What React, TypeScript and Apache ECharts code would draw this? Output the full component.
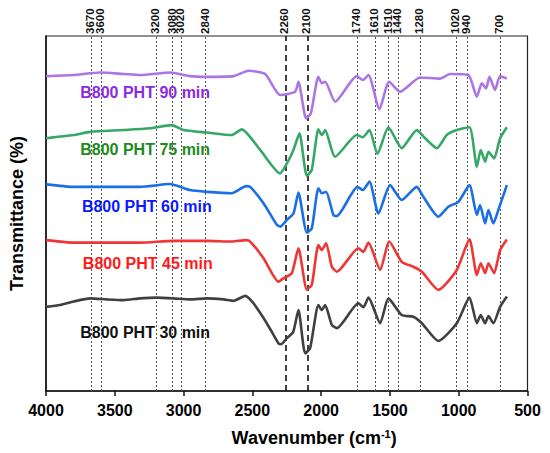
import React, { useEffect, useRef } from "react";
import * as echarts from "echarts";

// Reference wavenumbers (top labels)
const refDotted = [3670, 3600, 3200, 3080, 3020, 2840, 1740, 1610, 1510, 1440, 1280, 1020, 940, 700];
const refDashed = [2260, 2100];

// Spectra: [wavenumber, transmittance (a.u., offset)]
const pht30: [number, number][] = [
  [4000, 23.7], [3897, 24.2], [3800, 25.2], [3679, 26.1], [3557, 25.8], [3437, 25.6], [3315, 26.1],
  [3194, 26.3], [3073, 26.1], [2952, 25.8], [2831, 26.1], [2710, 25.8], [2637, 25.4], [2552, 26.8],
  [2492, 24.7], [2395, 19.1], [2310, 13.4], [2290, 13.2], [2249, 14.9], [2203, 16.6], [2165, 22.8],
  [2116, 10.6], [2080, 12.1], [2020, 24.2], [1995, 22.8], [1971, 24.2], [1922, 18.6], [1886, 17.7],
  [1729, 24.7], [1693, 23.6], [1656, 26.3], [1571, 19.1], [1511, 26.1], [1414, 21.4], [1330, 20.9],
  [1268, 19.1], [1148, 14.1], [1014, 19.1], [922, 26.3], [868, 19.1], [840, 21.4], [808, 19.1],
  [784, 21.1], [748, 19.1], [699, 23.7], [650, 26.6],
];
const pht45: [number, number][] = [
  [4000, 42.5], [3800, 41.8], [3557, 41.8], [3315, 41.8], [3073, 42.3], [2831, 42.3], [2650, 42.1],
  [2545, 42.5], [2516, 42.1], [2419, 37.4], [2310, 30.8], [2274, 31.7], [2213, 33.2], [2165, 40.2],
  [2104, 28.6], [2068, 29.9], [2020, 41.1], [1995, 39.7], [1964, 41.6], [1922, 35.0], [1886, 33.6],
  [1729, 40.2], [1693, 39.2], [1656, 41.8], [1571, 34.1], [1505, 42.1], [1414, 36.4], [1330, 35.0],
  [1268, 33.6], [1148, 28.5], [1014, 34.1], [922, 42.7], [868, 32.7], [840, 36.0], [808, 33.2],
  [784, 36.0], [743, 33.2], [699, 39.7], [650, 42.7],
];
const pht60: [number, number][] = [
  [4000, 58.2], [3800, 57.5], [3557, 57.5], [3315, 57.5], [3100, 58.3], [2952, 56.6], [2831, 56.1],
  [2650, 55.7], [2545, 57.7], [2516, 57.5], [2419, 52.9], [2322, 46.8], [2298, 46.3], [2249, 48.2],
  [2201, 50.0], [2165, 55.9], [2104, 44.6], [2068, 45.8], [2020, 57.1], [1995, 55.7], [1964, 56.1],
  [1911, 49.6], [1886, 49.3], [1736, 57.5], [1697, 56.6], [1649, 59.0], [1584, 50.0], [1499, 58.0],
  [1414, 53.8], [1305, 57.5], [1257, 54.7], [1148, 49.1], [1075, 51.9], [1002, 53.3], [922, 58.0],
  [868, 49.6], [845, 52.4], [808, 47.2], [784, 51.0], [748, 47.2], [712, 51.0], [650, 58.0],
];
const pht75: [number, number][] = [
  [4000, 71.2], [3800, 72.1], [3679, 73.0], [3437, 73.5], [3243, 74.0], [3085, 74.9], [3000, 73.5],
  [2831, 72.8], [2650, 72.1], [2577, 73.7], [2443, 67.9], [2298, 61.3], [2249, 64.1], [2201, 67.9],
  [2158, 72.6], [2104, 60.6], [2068, 62.3], [2020, 73.7], [1995, 72.1], [1971, 73.5], [1898, 66.0],
  [1741, 72.1], [1697, 71.5], [1649, 73.5], [1591, 66.8], [1511, 74.3], [1414, 68.4], [1305, 73.5],
  [1244, 71.2], [1159, 68.4], [1087, 72.1], [1014, 73.5], [922, 74.3], [868, 63.2], [840, 67.9],
  [808, 64.6], [784, 67.4], [743, 65.5], [699, 71.2], [650, 74.3],
];
const pht90: [number, number][] = [
  [4000, 88.7], [3800, 89.0], [3606, 89.7], [3437, 89.3], [3315, 89.0], [3097, 89.7], [2952, 88.7],
  [2831, 88.5], [2637, 88.7], [2528, 90.2], [2407, 89.3], [2298, 83.4], [2189, 84.3], [2165, 87.1],
  [2109, 76.8], [2075, 78.2], [2020, 88.5], [1995, 86.7], [1971, 87.1], [1898, 81.5], [1741, 88.7],
  [1697, 87.6], [1656, 89.0], [1576, 79.4], [1506, 87.1], [1426, 84.3], [1281, 88.3], [1136, 88.0],
  [1063, 89.3], [930, 89.0], [868, 82.9], [832, 86.7], [801, 85.2], [777, 88.5], [736, 84.8],
  [699, 88.7], [650, 88.0],
];

const seriesNames = ["B800 PHT 30 min", "B800 PHT 45 min", "B800 PHT 60 min", "B800 PHT 75 min", "B800 PHT 90 min"];
const seriesData = [pht30, pht45, pht60, pht75, pht90];
const lineColors = ["#404040", "#f03535", "#1a6fe6", "#35a866", "#ad74e6"];
const labelColors = ["#111111", "#ff1a1a", "#0a1aff", "#1e8a1e", "#8a2be2"];
// label anchors (left edge, vertical centre) in data coordinates
const labelAnchors: [number, number][] = [
  [3751, 16.4], [3732, 36.0], [3739, 52.1], [3751, 67.9], [3751, 84.0],
];

const FONT = "Liberation Sans, Arial, sans-serif";

export default function App() {
  const ref = useRef<HTMLDivElement>(null);
  useEffect(() => {
    if (!ref.current) return;
    const chart = echarts.init(ref.current, null, { renderer: "svg" });
    const markData: any[] = [
      ...refDotted.map((w) => ({
        xAxis: w,
        lineStyle: { type: [2, 2], color: "#555", width: 1 },
      })),
      ...refDashed.map((w) => ({
        xAxis: w,
        lineStyle: { type: [6, 4], color: "#111", width: 1.6 },
      })),
    ];
    chart.setOption({
      animation: false,
      grid: {
        left: 46,
        right: 22.5,
        top: 36,
        bottom: 62,
        show: true,
        borderColor: "#222",
        borderWidth: 1.2,
      },
      xAxis: {
        type: "value",
        min: 500,
        max: 4000,
        interval: 500,
        inverse: true,
        axisLine: { lineStyle: { color: "#111", width: 1.5 } },
        axisTick: { show: true, length: 5, lineStyle: { color: "#111", width: 1.5 } },
        axisLabel: {
          color: "#000",
          fontWeight: "bold",
          fontSize: 16,
          fontFamily: FONT,
          margin: 11,
          formatter: (v: number) => String(v),
        },
        splitLine: { show: false },
      },
      yAxis: {
        type: "value",
        min: 0,
        max: 100,
        axisLine: { show: true, lineStyle: { color: "#111", width: 1.5 } },
        axisTick: { show: false },
        axisLabel: { show: false },
        splitLine: { show: false },
      },
      series: seriesData.map((d, i) => ({
        name: seriesNames[i],
        type: "line",
        data: d,
        showSymbol: false,
        smooth: 0.2,
        lineStyle: { color: lineColors[i], width: 2.6 },
        itemStyle: { color: lineColors[i] },
        z: 3,
        ...(i === 0
          ? {
              markLine: {
                silent: true,
                symbol: ["none", "none"],
                label: { show: false },
                data: markData,
                z: 2,
              },
            }
          : {}),
      })),
    });

    const toPx = (w: number, v: number) =>
      chart.convertToPixel({ xAxisIndex: 0, yAxisIndex: 0 }, [w, v]) as number[];
    const topY = toPx(4000, 100)[1];
    const graphics: any[] = [];
    [...refDotted, ...refDashed].forEach((w) => {
      const p = toPx(w, 100);
      graphics.push({
        type: "text",
        x: p[0] - 1,
        y: topY - 2,
        rotation: Math.PI / 2,
        style: {
          text: String(w),
          fill: "#111",
          fontSize: 11.5,
          fontWeight: "bold",
          fontFamily: FONT,
          textAlign: "left",
          textVerticalAlign: "middle",
        },
      });
    });
    seriesNames.forEach((n, i) => {
      const p = toPx(labelAnchors[i][0], labelAnchors[i][1]);
      graphics.push({
        type: "text",
        x: p[0],
        y: p[1],
        style: {
          text: n,
          fill: labelColors[i],
          fontSize: 16,
          fontWeight: "bold",
          fontFamily: FONT,
          textAlign: "left",
          textVerticalAlign: "middle",
        },
        z: 10,
      });
    });
    const bottomY = toPx(4000, 0)[1];
    const midX = toPx(2260 - 180, 0)[0];
    graphics.push({
      type: "text",
      x: midX + 4,
      y: bottomY + 47,
      style: {
        text: "{a|Wavenumber (cm}{s|-1}{a|)}",
        textAlign: "center",
        textVerticalAlign: "middle",
        rich: {
          a: { fontSize: 18, fontWeight: "bold", fontFamily: FONT, fill: "#000", color: "#000" },
          s: { fontSize: 11, fontWeight: "bold", fontFamily: FONT, fill: "#000", color: "#000", padding: [0, 0, 9, 0] },
        },
      },
    });
    const leftX = toPx(4000, 50);
    graphics.push({
      type: "text",
      x: leftX[0] - 29,
      y: leftX[1],
      rotation: Math.PI / 2,
      style: {
        text: "Transmittance (%)",
        fill: "#000",
        fontSize: 18,
        fontWeight: "bold",
        fontFamily: FONT,
        textAlign: "center",
        textVerticalAlign: "middle",
      },
    });
    chart.setOption({ graphic: graphics });
    return () => chart.dispose();
  }, []);
  return (
    <div
      ref={ref}
      style={{ position: "fixed", left: 0, top: 0, width: 550, height: 453, background: "#fff" }}
    />
  );
}
